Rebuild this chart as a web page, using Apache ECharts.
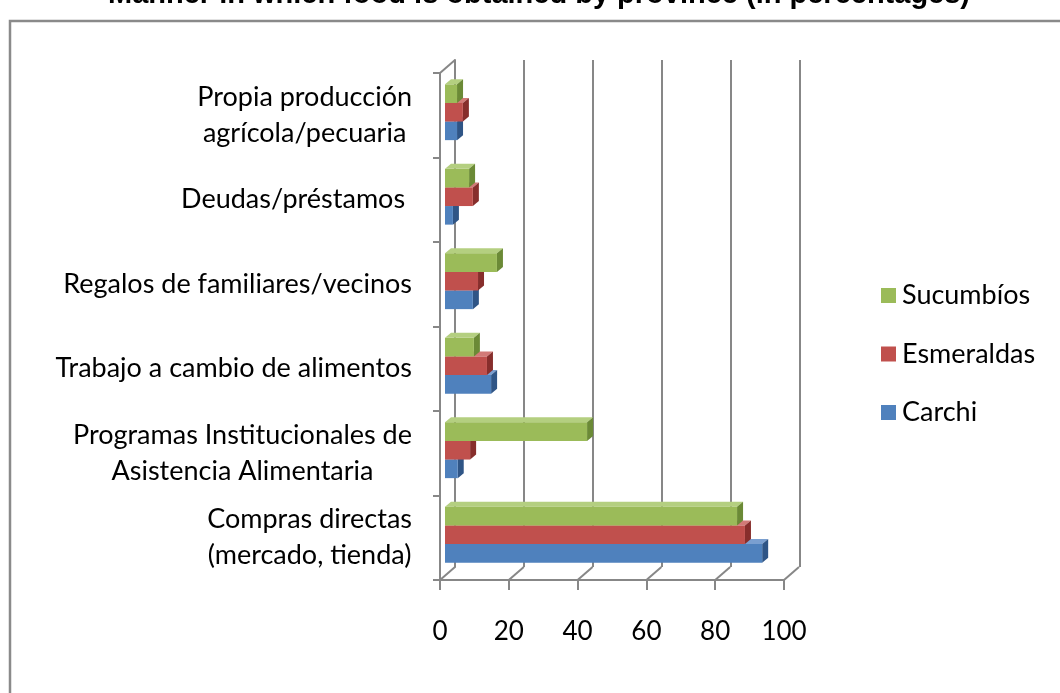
<!DOCTYPE html>
<html>
<head>
<meta charset="utf-8">
<script src="https://cdn.jsdelivr.net/npm/echarts@6/dist/echarts.min.js"></script>
<style>
html, body { margin: 0; padding: 0; background: #fff; }
#main { width: 1060px; height: 693px; }
</style>
</head>
<body>
<div id="main"></div>
<script>
// categorias de abajo hacia arriba
var categories = [
  'Compras directas\n(mercado, tienda)',
  'Programas Institucionales de\nAsistencia Alimentaria',
  'Trabajo a cambio de alimentos',
  'Regalos de familiares/vecinos',
  'Deudas/préstamos ',
  'Propia producción\nagrícola/pecuaria'
]
var carchi     = [92.2, 3.7, 13.4, 8.1, 2.3, 3.5]
var esmeraldas = [87.2, 7.3, 12.2, 9.6, 8.1, 5.2]
var sucumbios  = [84.9, 41.3, 8.4, 15.1, 7.0, 3.5]
var xTicks = [0, 20, 40, 60, 80, 100]
var legendNames = ['Sucumbíos', 'Esmeraldas', 'Carchi']
var title = 'Manner in which food is obtained by province (in percentages)'

var font = 'Lato'
var gray = '#878787'

var myChart = echarts.init(document.getElementById('main'))

// barra "3D": cara frontal, superior y lateral
function barRender(s, colors) {
  return function (params, api) {
    var i = api.value(1)
    var start = api.coord([0, i])
    var end = api.coord([api.value(0), i])
    var h = api.size([0, 1])[1] * 0.22
    var x0 = start[0] + 5, x1 = end[0] + 5
    var yT = start[1] - 3 + (0.5 - s) * h, yB = yT + h
    var dx = 6, dy = -5
    return {
      type: 'group',
      children: [
        {type: 'polygon', shape: {points: [[x0, yT], [x1, yT], [x1 + dx, yT + dy], [x0 + dx, yT + dy]]}, style: {fill: colors[2]}},
        {type: 'polygon', shape: {points: [[x1, yT], [x1 + dx, yT + dy], [x1 + dx, yB + dy], [x1, yB]]}, style: {fill: colors[1]}},
        {type: 'rect', shape: {x: x0, y: yT, width: x1 - x0, height: h}, style: {fill: colors[0]}}
      ]
    }
  }
}

function toData(arr) {
  return arr.map(function (v, i) { return [v, i] })
}

var option = {
  backgroundColor: '#fff',
  animation: false,
  graphic: [
    {type: 'rect', shape: {x: 10, y: 21, width: 1200, height: 800}, style: {fill: 'none', stroke: '#8a8a8a', lineWidth: 2.5}, z: -1},
    {type: 'text', x: 539, y: 9, style: {text: title, font: 'bold 29px "Liberation Sans"', fill: '#000', align: 'center', verticalAlign: 'bottom'}}
  ],
  legend: {
    data: legendNames,
    orient: 'vertical',
    left: 876,
    top: 277,
    itemWidth: 15,
    itemHeight: 15,
    itemGap: 31.5,
    icon: 'rect',
    textStyle: {fontFamily: font, fontSize: 27, color: '#000', padding: [0, 0, 0, 1]}
  },
  grid: [
    {left: 440, right: 276, top: 73, bottom: 113},
    {left: 455, right: 260, top: 60, bottom: 126}
  ],
  xAxis: [
    {
      type: 'value', gridIndex: 0, min: 0, max: 100, interval: 20,
      axisLine: {show: true, lineStyle: {color: gray, width: 2}},
      axisTick: {show: true, length: 10, lineStyle: {color: gray, width: 2}},
      axisLabel: {fontFamily: font, fontSize: 26, color: '#000', margin: 39},
      splitLine: {show: false}
    },
    {
      type: 'value', gridIndex: 1, min: 0, max: 100, interval: 20,
      axisLine: {show: false}, axisTick: {show: false}, axisLabel: {show: false},
      splitLine: {show: true, lineStyle: {color: gray, width: 2}}
    }
  ],
  yAxis: [
    {
      type: 'category', gridIndex: 0, data: categories,
      axisLine: {show: true, lineStyle: {color: gray, width: 2}},
      axisTick: {show: true, length: 7, lineStyle: {color: gray, width: 2}},
      axisLabel: {
        margin: 28,
        fontFamily: font, fontSize: 27, color: '#000', lineHeight: 36,
        formatter: function (v) {
          return v.split('\n').map(function (l) { return '{c|' + l + '}' }).join('\n')
        },
        rich: {c: {align: 'center', fontFamily: font, fontSize: 27, color: '#000', lineHeight: 36}}
      },
      splitLine: {show: false}
    },
    {
      type: 'category', gridIndex: 1, data: categories,
      axisLine: {show: true, lineStyle: {color: gray, width: 2}},
      axisTick: {show: false}, axisLabel: {show: false}, splitLine: {show: false}
    }
  ],
  series: [
    {
      // lineas diagonales del piso
      type: 'custom', xAxisIndex: 0, yAxisIndex: 0, silent: true,
      data: xTicks.map(function (v) { return [v, 0] }),
      renderItem: function (params, api) {
        var cs = params.coordSys
        var p = api.coord([api.value(0), 0])
        var yb = cs.y + cs.height
        var st = {stroke: gray, lineWidth: 2}
        var children = [{type: 'line', shape: {x1: p[0], y1: yb, x2: p[0] + 15, y2: yb - 13}, style: st}]
        if (params.dataIndex === 0) {
          children.push({type: 'line', shape: {x1: cs.x, y1: cs.y, x2: cs.x + 15, y2: cs.y - 13}, style: st})
        }
        return {type: 'group', children: children}
      }
    },
    {
      name: 'Carchi', type: 'custom', xAxisIndex: 0, yAxisIndex: 0,
      itemStyle: {color: '#4F81BD'},
      data: toData(carchi),
      renderItem: barRender(0, ['#4F81BD', '#2F5586', '#7A9FD0'])
    },
    {
      name: 'Esmeraldas', type: 'custom', xAxisIndex: 0, yAxisIndex: 0,
      itemStyle: {color: '#C0504D'},
      data: toData(esmeraldas),
      renderItem: barRender(1, ['#C0504D', '#872E2C', '#D27a77'])
    },
    {
      name: 'Sucumbíos', type: 'custom', xAxisIndex: 0, yAxisIndex: 0,
      itemStyle: {color: '#9BBB59'},
      data: toData(sucumbios),
      renderItem: barRender(2, ['#9BBB59', '#6B8A36', '#B4CF80'])
    }
  ]
}
myChart.setOption(option)
</script>
</body>
</html>
